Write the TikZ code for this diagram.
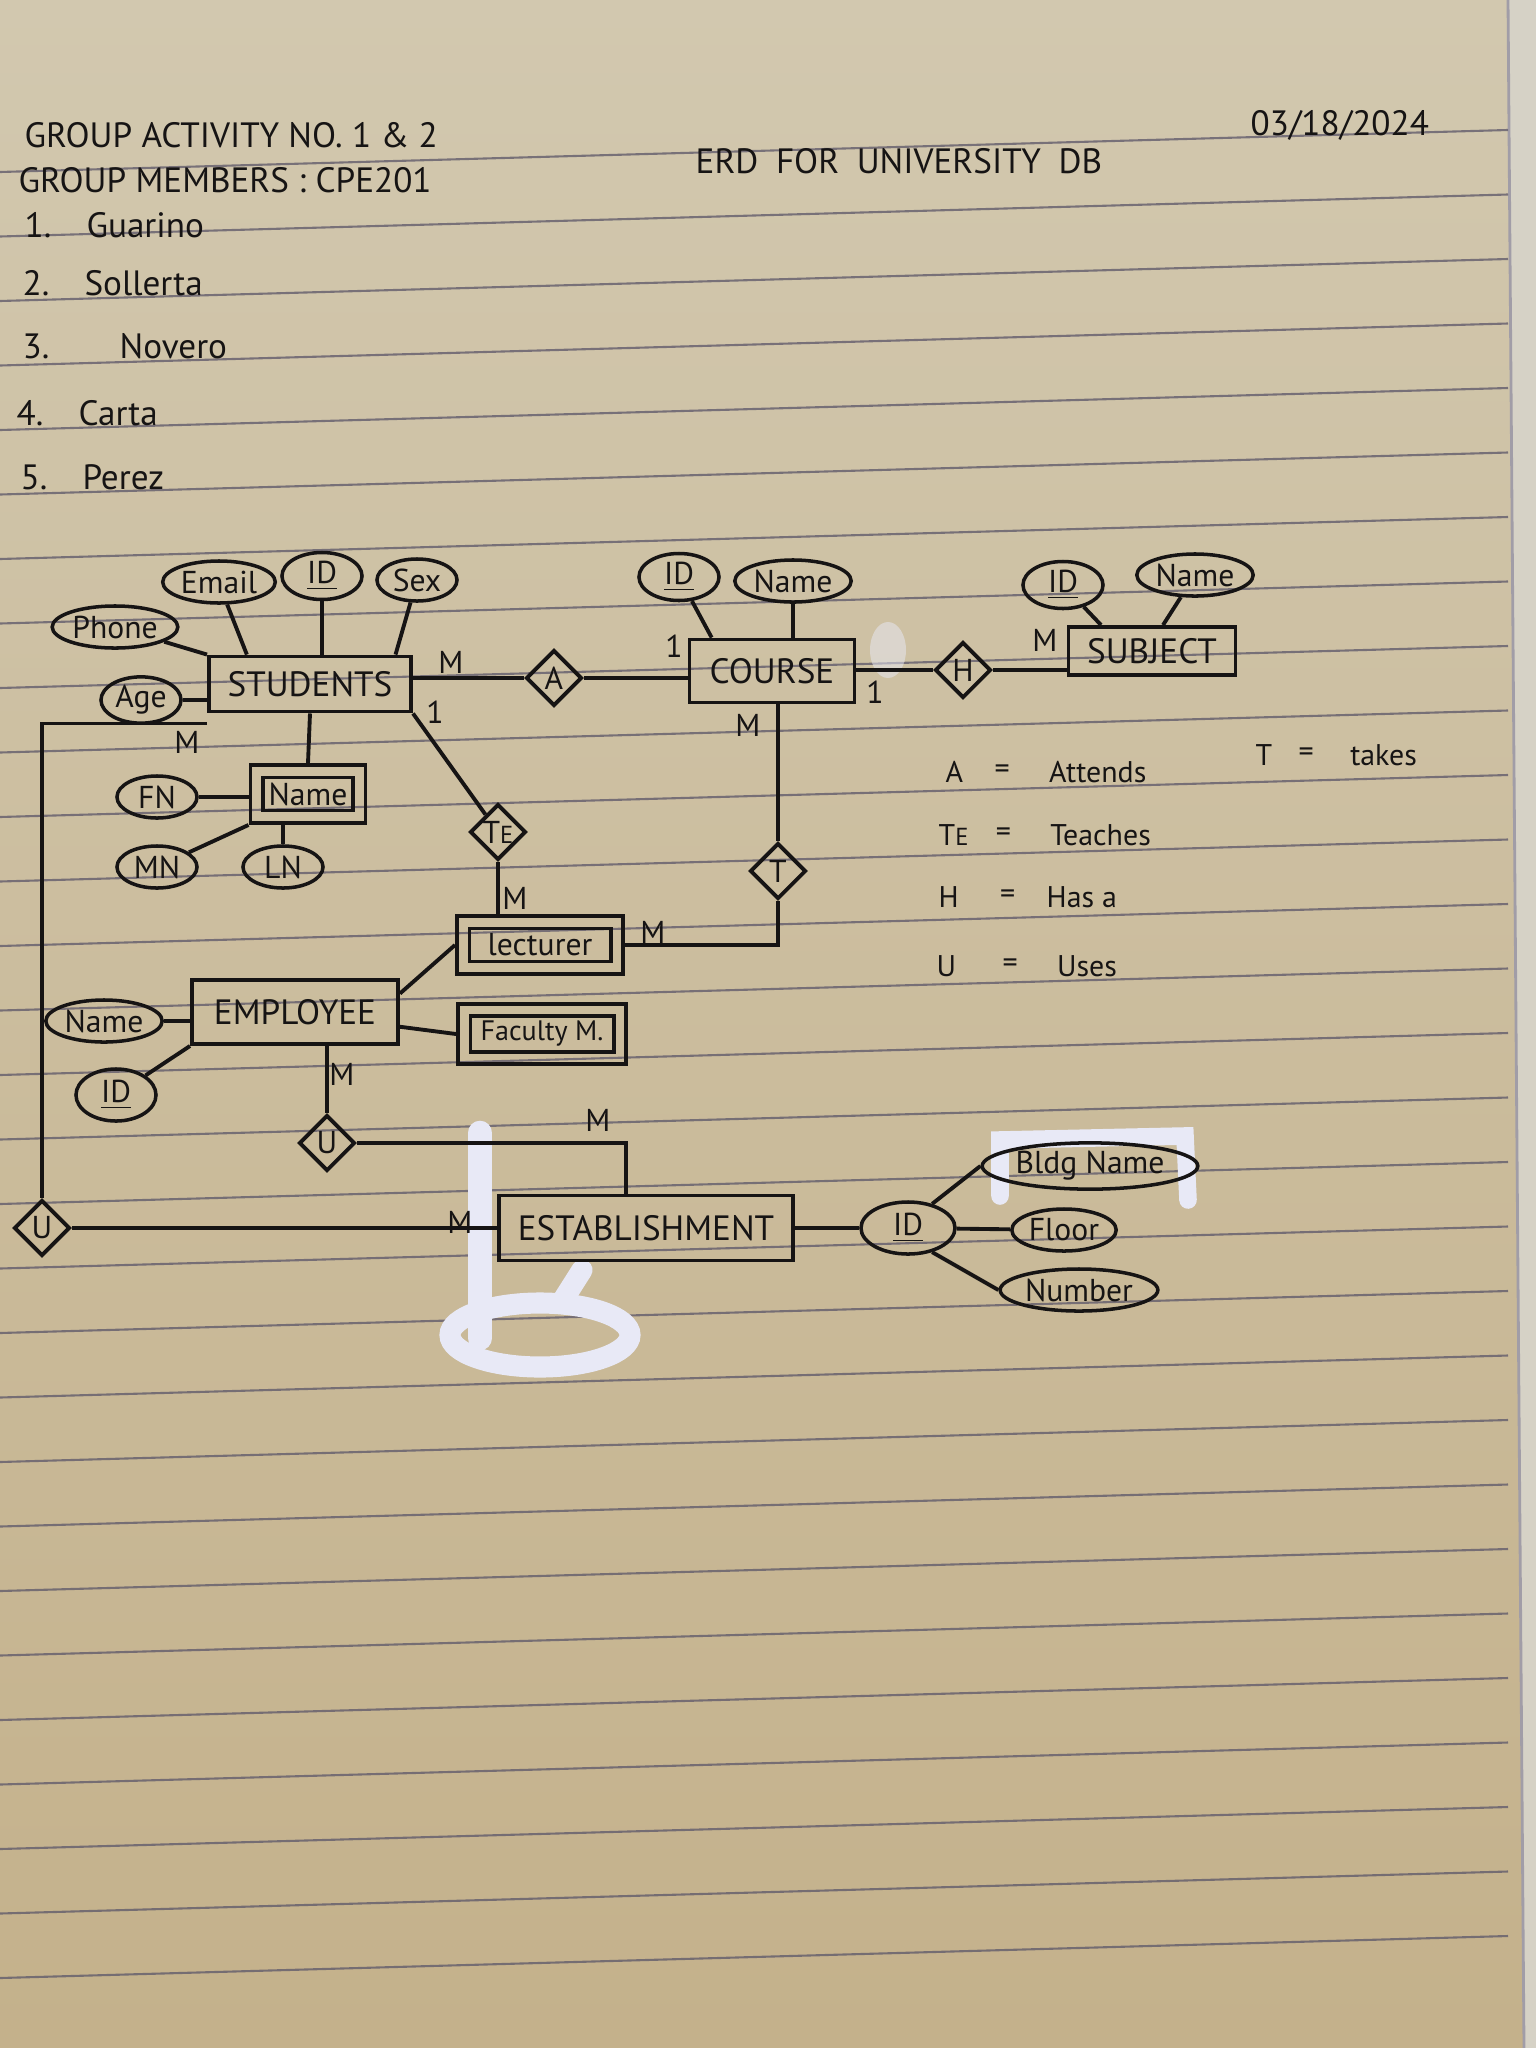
\documentclass[tikz,border=0pt]{standalone}
\usepackage{fontspec}
\setmainfont{PT Sans}
\usetikzlibrary{positioning,shapes.geometric}
\definecolor{papertop}{RGB}{210,200,175}
\definecolor{paperbottom}{RGB}{196,177,139}
\definecolor{ruleline}{RGB}{98,92,108}
\definecolor{whiteout}{RGB}{232,233,246}
\definecolor{sheetedge}{RGB}{214,210,198}
\definecolor{ink}{RGB}{22,20,20}

\begin{document}
\begin{tikzpicture}[x=0.01cm, y=-0.01cm,
        entity/.style={rectangle, draw=ink, line width=1.1pt, inner sep=2pt, text=ink, font=\fontsize{10}{12}\selectfont},
        weakentity/.style={entity, inner sep=5pt, font=\fontsize{9}{11}\selectfont, path picture={\draw[ink, line width=1pt] ([shift={(3.5pt,3.5pt)}]path picture bounding box.south west) rectangle ([shift={(-3.5pt,-3.5pt)}]path picture bounding box.north east);}},
        attr/.style={ellipse, draw=ink, line width=1pt, inner sep=0.5pt, minimum width=0.8cm, minimum height=0.42cm, text=ink, font=\fontsize{9}{11}\selectfont},
        rel/.style={diamond, draw=ink, line width=1.1pt, inner sep=0pt, minimum size=0.56cm, text=ink, font=\fontsize{9}{11}\selectfont},
        card/.style={inner sep=1pt, text=ink, font=\fontsize{9}{11}\selectfont},
        note/.style={anchor=west, inner sep=0pt, text=ink, font=\fontsize{10}{12}\selectfont},
        legend/.style={inner sep=0pt, text=ink, font=\fontsize{8.5}{10}\selectfont},
        link/.style={draw=ink, line width=1.1pt}]
        % paper
        \useasboundingbox (0,0) rectangle (1536,2048);
        \shade[top color=papertop, bottom color=paperbottom] (0,0) rectangle (1536,2048);
        \fill[sheetedge] (1508,0) -- (1536,0) -- (1536,2048) -- (1524,2048) -- cycle;
        \draw[ruleline!60, line width=0.8pt] (1508,0) -- (1524,2048);
        \foreach \ly in {0,...,28}
            \draw[ruleline, line width=0.6pt, opacity=0.8] (0,{172+64.5*\ly}) -- (1508,{130+64.5*\ly});
        % correction fluid
        \fill[whiteout, opacity=0.5] (888,650) ellipse [x radius=18, y radius=28];
        \draw[whiteout, line width=5pt, line cap=round] (1000,1196) -- (1000,1140) -- (1185,1136) -- (1188,1200);
        \draw[whiteout, line width=7pt, line cap=round] (480,1133) -- (480,1338);
        \draw[whiteout, line width=6pt] (540,1335) ellipse [x radius=90, y radius=32];
        \draw[whiteout, line width=6pt, line cap=round] (582,1270) -- (563,1300);

        % heading
        \node[note] (title) at (24,135) {GROUP ACTIVITY NO. 1 \& 2};
        \node[note] (members) at (18,180) {GROUP MEMBERS : CPE201};
        \node[note] (erd) at (695,161) {ERD\enspace FOR\enspace UNIVERSITY\enspace DB};
        \node[note] (date) at (1250,125) {03/18/2024};
        \node[note] (mone) at (24,225) {1.\quad Guarino};
        \node[note] (mtwo) at (22,283) {2.\quad Sollerta};
        \node[note] (mthree) at (22,346) {3.\qquad Novero};
        \node[note] (mfour) at (16,413) {4.\quad Carta};
        \node[note] (mfive) at (20,477) {5.\quad Perez};

        % students
        \node[entity, minimum width=2.02cm, minimum height=0.55cm] (students) at (310,684) {STUDENTS};
        \node[attr] (semail) at (219,582) {Email};
        \node[attr] (sid) at (322,576) {\underline{ID}};
        \node[attr] (ssex) at (417,580) {Sex};
        \node[attr] (sphone) at (115,627) {Phone};
        \node[attr] (sage) at (141,700) {Age};
        \node[weakentity, minimum width=1.15cm, minimum height=0.52cm] (sname) at (308,794) {Name};
        \node[attr] (sfn) at (157,797) {FN};
        \node[attr] (smn) at (157,867) {MN};
        \node[attr] (sln) at (283,867) {LN};
        \draw[link] (sphone) -- (students.north west);
        \draw[link] (semail.-70) -- (students.155);
        \draw[link] (sid) -- (sid |- students.north);
        \draw[link] (ssex) -- (students.19);
        \draw[link] (sage) -- (sage -| students.west);
        \draw[link] (students.south) -- (sname.north);
        \draw[link] (sfn) -- (sfn -| sname.west);
        \draw[link] (smn) -- (sname.south west);
        \draw[link] (sln) -- (sln |- sname.south);

        % course and subject
        \node[entity, minimum width=1.65cm, minimum height=0.63cm] (course) at (772,671) {COURSE};
        \node[attr] (cid) at (679,577) {\underline{ID}};
        \node[attr] (cname) at (793,581) {Name};
        \node[entity, minimum width=1.67cm, minimum height=0.48cm] (subject) at (1152,651) {SUBJECT};
        \node[attr] (subid) at (1063,585) {\underline{ID}};
        \node[attr] (subname) at (1195,575) {Name};
        \draw[link] (cid) -- (course.151);
        \draw[link] (cname) -- (cname |- course.north);
        \draw[link] (subid) -- (subject.153);
        \draw[link] (subname) -- (subject.67);

        % relationships
        \node[rel] (attends) at (554,678) {A};
        \node[rel] (teaches) at (498,832) {T{\scriptsize E}};
        \node[rel] (takes) at (778,871) {T};
        \node[rel] (hasa) at (963,670) {H};
        \node[rel] (uemp) at (327,1143) {U};
        \node[rel] (uleft) at (42,1228) {U};

        % employee side
        \node[weakentity, minimum width=1.66cm, minimum height=0.5cm] (lecturer) at (540,945) {lecturer};
        \node[weakentity, minimum width=1.68cm, minimum height=0.58cm, font=\fontsize{8}{10}\selectfont] (faculty) at (542,1034) {Faculty M.};
        \node[entity, minimum width=2.06cm, minimum height=0.64cm] (employee) at (295,1012) {EMPLOYEE};
        \node[attr] (ename) at (104,1021) {Name};
        \node[attr, minimum height=0.52cm] (eid) at (116,1095) {\underline{ID}};
        \draw[link] (ename) -- (ename -| employee.west);
        \draw[link] (eid) -- (employee.south west);
        \draw[link] (employee.10) -- (lecturer.west);
        \draw[link] (employee.-8) -- (faculty.west);

        % establishment
        \node[entity, minimum width=2.93cm, minimum height=0.65cm] (establish) at (646,1228) {ESTABLISHMENT};
        \node[attr, minimum width=0.94cm, minimum height=0.52cm] (estid) at (908,1228) {\underline{ID}};
        \node[attr] (bldg) at (1090,1166) {Bldg Name};
        \node[attr] (floor) at (1064,1230) {Floor};
        \node[attr] (number) at (1079,1290) {Number};
        \draw[link] (establish) -- (estid);
        \draw[link] (estid.45) -- (bldg.west);
        \draw[link] (estid) -- (floor);
        \draw[link] (estid.-45) -- (number.west);

        % relationship lines
        \draw[link] (attends -| students.east) -- (attends);
        \draw[link] (attends) -- (attends -| course.west);
        \draw[link] (students.south east) -- (teaches);
        \draw[link] (teaches) -- (teaches |- lecturer.north);
        \draw[link] (takes |- course.south) -- (takes);
        \draw[link] (takes) |- (lecturer.east);
        \draw[link] (hasa -| course.east) -- (hasa);
        \draw[link] (hasa) -- (hasa -| subject.west);
        \draw[link] (uemp |- employee.south) -- (uemp);
        \draw[link] (uemp) -| ([xshift=-0.2cm]establish.north);
        \draw[link] ([yshift=-0.1cm]students.south west) -| (uleft.north);
        \draw[link] (uleft) -- (establish.west);

        % cardinalities
        \node[card] (cstuda) at (451,662) {M};
        \node[card] (cstudte) at (435,712) {1};
        \node[card] (ccoursea) at (674,646) {1};
        \node[card] (ccourset) at (748,725) {M};
        \node[card] (ccourseh) at (875,692) {1};
        \node[card] (csubh) at (1045,640) {M};
        \node[card] (clectte) at (515,898) {M};
        \node[card] (clectt) at (653,932) {M};
        \node[card] (cstudu) at (187,742) {M};
        \node[card] (cempu) at (342,1074) {M};
        \node[card] (cestu) at (598,1120) {M};
        \node[card] (cestul) at (460,1222) {M};

        % legend
        \node[legend, anchor=west] (keya) at (945,772) {A};
        \node[legend] (eqa) [right=0.3cm of keya] {=};
        \node[legend] (mna) [right=0.38cm of eqa] {Attends};
        \node[legend, anchor=west] (keyte) at (938,835) {T{\scriptsize E}};
        \node[legend] (eqte) [right=0.26cm of keyte] {=};
        \node[legend] (mnte) [right=0.38cm of eqte] {Teaches};
        \node[legend, anchor=west] (keyh) at (938,897) {H};
        \node[legend] (eqh) [right=0.4cm of keyh] {=};
        \node[legend] (mnh) [right=0.3cm of eqh] {Has a};
        \node[legend, anchor=west] (keyu) at (936,966) {U};
        \node[legend] (equ) [right=0.45cm of keyu] {=};
        \node[legend] (mnu) [right=0.38cm of equ] {Uses};
        \node[legend, anchor=west] (keyt) at (1255,755) {T};
        \node[legend] (eqt) [right=0.25cm of keyt] {=};
        \node[legend] (mnt) [right=0.35cm of eqt] {takes};
\end{tikzpicture}
\end{document}
